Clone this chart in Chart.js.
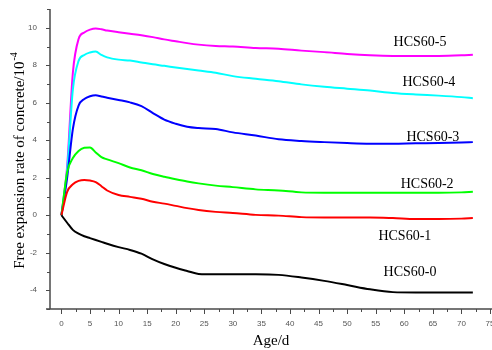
<!DOCTYPE html>
<html>
<head>
<meta charset="utf-8">
<script src="https://cdn.jsdelivr.net/npm/chart.js@4/dist/chart.umd.min.js"></script>
<style>
  html, body { margin: 0; padding: 0; background: #fff; }
  #wrap { width: 492px; height: 350px; }
</style>
</head>
<body>
<div id="wrap"><canvas id="chart" width="492" height="350"></canvas></div>
<script>
// age in days
const ages = [0, 1, 2, 3, 4, 5, 6, 7, 8, 10, 12, 14, 16, 18, 20, 22, 24, 27, 30, 34, 38, 42, 46, 50, 54, 58, 62, 66, 70, 72];

// free expansion rate, 10^-4
const hcs0 = [0, -0.4, -0.78, -0.98, -1.12, -1.22, -1.32, -1.42, -1.52, -1.7, -1.85, -2.05, -2.35, -2.6, -2.8, -2.97, -3.13, -3.15, -3.15, -3.15, -3.18, -3.32, -3.5, -3.72, -3.95, -4.1, -4.12, -4.12, -4.12, -4.12];
const hcs1 = [0, 1.25, 1.65, 1.83, 1.88, 1.85, 1.77, 1.55, 1.32, 1.08, 0.98, 0.88, 0.72, 0.62, 0.5, 0.38, 0.28, 0.18, 0.12, 0.02, -0.02, -0.1, -0.12, -0.12, -0.12, -0.15, -0.2, -0.2, -0.18, -0.15];
const hcs2 = [0, 2.29, 3.05, 3.43, 3.6, 3.62, 3.35, 3.1, 2.98, 2.78, 2.55, 2.4, 2.2, 2.05, 1.92, 1.8, 1.7, 1.58, 1.5, 1.38, 1.32, 1.22, 1.2, 1.2, 1.2, 1.2, 1.2, 1.2, 1.22, 1.25];
const hcs3 = [0, 2.0, 4.6, 5.85, 6.2, 6.35, 6.4, 6.33, 6.27, 6.15, 6.02, 5.82, 5.45, 5.1, 4.88, 4.72, 4.65, 4.6, 4.42, 4.25, 4.05, 3.96, 3.9, 3.85, 3.82, 3.82, 3.84, 3.85, 3.88, 3.9];
const hcs4 = [0, 2.4, 6.7, 8.23, 8.55, 8.68, 8.73, 8.55, 8.42, 8.3, 8.25, 8.15, 8.05, 7.97, 7.88, 7.8, 7.72, 7.6, 7.42, 7.28, 7.15, 6.98, 6.85, 6.75, 6.65, 6.52, 6.44, 6.38, 6.3, 6.24];
const hcs5 = [0, 2.6, 7.6, 9.4, 9.75, 9.9, 9.96, 9.92, 9.85, 9.76, 9.68, 9.6, 9.5, 9.38, 9.28, 9.18, 9.1, 9.03, 9.0, 8.92, 8.88, 8.78, 8.7, 8.6, 8.53, 8.5, 8.5, 8.5, 8.53, 8.56];

const names = ['HCS60-0', 'HCS60-1', 'HCS60-2', 'HCS60-3', 'HCS60-4', 'HCS60-5'];
const series = [hcs0, hcs1, hcs2, hcs3, hcs4, hcs5];
const colors = ['#000000', '#ff0000', '#00ff00', '#0000ff', '#00ffff', '#ff00ff'];
// where each curve name sits, in data units (age, rate)
const namePos = [[61.0, -3.03], [60.1, -1.11], [64.0, 1.67], [65.0, 4.17], [64.3, 7.1], [62.75, 9.24]];

const axisColor = '#4a4a4a';

// axes, tick marks, titles and curve names drawn by hand
const decor = {
  id: 'decor',
  afterDraw(chart) {
    const ctx = chart.ctx;
    const xs = chart.scales.x, ys = chart.scales.y;
    const a = chart.chartArea;
    ctx.save();
    ctx.strokeStyle = axisColor;
    ctx.lineWidth = 1.5;
    ctx.beginPath();
    ctx.moveTo(a.left, a.top);
    ctx.lineTo(a.left, a.bottom);
    ctx.moveTo(a.left - 4, a.bottom);
    ctx.lineTo(chart.width, a.bottom);
    ctx.stroke();

    ctx.lineWidth = 1;
    ctx.beginPath();
    ys.ticks.forEach(t => {
      const y = Math.round(ys.getPixelForValue(t.value)) + 0.5;
      const len = t.value % 2 === 0 ? 4 : 3;
      ctx.moveTo(a.left - len, y);
      ctx.lineTo(a.left, y);
    });
    xs.ticks.forEach(t => {
      if (t.value < 0) return;
      const x = Math.round(xs.getPixelForValue(t.value)) + 0.5;
      const len = t.value % 5 === 0 ? 5 : 3;
      ctx.moveTo(x, a.bottom);
      ctx.lineTo(x, a.bottom + len);
    });
    ctx.stroke();

    // curve names
    ctx.fillStyle = '#000';
    ctx.font = '14px "Liberation Serif", serif';
    ctx.textAlign = 'center';
    ctx.textBaseline = 'middle';
    names.forEach((n, i) => {
      ctx.fillText(n, xs.getPixelForValue(namePos[i][0]), ys.getPixelForValue(namePos[i][1]));
    });

    // x title
    ctx.font = '15px "Liberation Serif", serif';
    ctx.fillText('Age/d', 271, 341);

    // y title with superscript
    const main = 'Free expansion rate of concrete/10';
    const sup = '-4';
    ctx.font = '15px "Liberation Serif", serif';
    const wMain = ctx.measureText(main).width;
    ctx.font = '10px "Liberation Serif", serif';
    const wSup = ctx.measureText(sup).width;
    ctx.translate(20, 161);
    ctx.rotate(-Math.PI / 2);
    const start = -(wMain + wSup) / 2;
    ctx.textAlign = 'left';
    ctx.font = '15px "Liberation Serif", serif';
    ctx.fillText(main, start, 0);
    ctx.font = '10px "Liberation Serif", serif';
    ctx.fillText(sup, start + wMain + 1, -6);
    ctx.restore();
  }
};

new Chart(document.getElementById('chart'), {
  type: 'line',
  data: {
    datasets: series.map((vals, i) => ({
      label: names[i],
      data: ages.map((x, j) => ({ x: x, y: vals[j] })),
      borderColor: colors[i],
      borderWidth: 2,
      pointRadius: 0,
      cubicInterpolationMode: 'monotone',
      fill: false
    }))
  },
  options: {
    responsive: false,
    animation: false,
    layout: { autoPadding: false, padding: { top: 9, right: 2, left: 0, bottom: 0 } },
    plugins: { legend: { display: false }, tooltip: { enabled: false } },
    scales: {
      x: {
        type: 'linear',
        min: -2,
        max: 75,
        afterFit: s => { s.height = 41; s.paddingLeft = 0; s.paddingRight = 0; },
        grid: { display: true, drawOnChartArea: false, drawTicks: true, tickLength: 4, tickColor: 'rgba(0,0,0,0)' },
        border: { display: false },
        ticks: {
          stepSize: 2.5,
          includeBounds: false,
          autoSkip: false,
          maxRotation: 0,
          padding: 6,
          color: '#555',
          font: { family: 'Liberation Sans', size: 8 },
          callback: v => (v >= 0 && v % 5 === 0 ? String(v) : '')
        }
      },
      y: {
        min: -5,
        max: 11,
        afterFit: s => { s.width = 50; s.paddingTop = 0; s.paddingBottom = 0; },
        grid: { display: true, drawOnChartArea: false, drawTicks: true, tickLength: 4, tickColor: 'rgba(0,0,0,0)' },
        border: { display: false },
        ticks: {
          stepSize: 1,
          includeBounds: false,
          autoSkip: false,
          padding: 9,
          color: '#555',
          font: { family: 'Liberation Sans', size: 8 },
          callback: v => (v % 2 === 0 && v > -5 ? String(v) : '')
        }
      }
    }
  },
  plugins: [decor]
});
</script>
</body>
</html>
